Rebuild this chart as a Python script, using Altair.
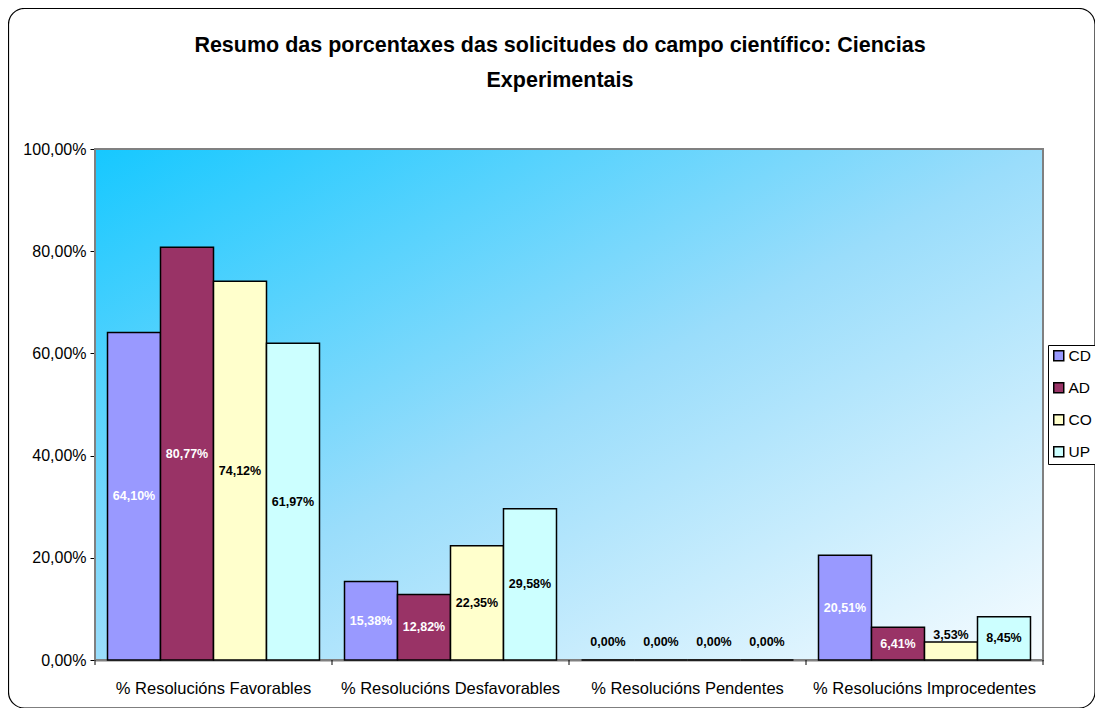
import altair as alt
import pandas as pd

categories = ["% Resolucións Favorables", "% Resolucións Desfavorables",
              "% Resolucións Pendentes", "% Resolucións Improcedentes"]
series = ["CD", "AD", "CO", "UP"]
colors = ["#9999FF", "#993366", "#FFFFCC", "#CCFFFF"]
values_CD = [64.10, 15.38, 0.00, 20.51]
values_AD = [80.77, 12.82, 0.00, 6.41]
values_CO = [74.12, 22.35, 0.00, 3.53]
values_UP = [61.97, 29.58, 0.00, 8.45]
title_lines = ["Resumo das porcentaxes das solicitudes do campo científico: Ciencias",
               "Experimentais"]

rows = []
for s, vals in zip(series, [values_CD, values_AD, values_CO, values_UP]):
    for c, v in zip(categories, vals):
        rows.append({"cat": c, "series": s, "value": v})
df = pd.DataFrame(rows)

W, H = 948, 511
FONT = "Liberation Sans"

one = alt.Data(values=[{}])

bg = alt.Chart(one).mark_rect(
    fill=alt.Gradient(
        gradient="linear",
        stops=[alt.GradientStop(color="#16C8FF", offset=0),
               alt.GradientStop(color="#9ADDFB", offset=0.5),
               alt.GradientStop(color="#F7FCFF", offset=1)],
        x1=0, y1=0, x2=1, y2=1),
    stroke="#808080", strokeWidth=2
).encode(x=alt.value(0), x2=alt.value(W), y=alt.value(0), y2=alt.value(H))

xenc = alt.X("cat:N", sort=categories, title=None,
             scale=alt.Scale(paddingInner=0, paddingOuter=0),
             axis=alt.Axis(ticks=False, labelAngle=0, labelFontSize=16.5,
                           labelFont=FONT, labelColor="black", labelPadding=20,
                           labelLimit=400,
                           domainColor="black", domainWidth=1.5, grid=False))
xoff = alt.XOffset("series:N", sort=series,
                   scale=alt.Scale(paddingInner=0, paddingOuter=0.236))
yenc = alt.Y("value:Q", title=None,
             scale=alt.Scale(domain=[0, 100], nice=False),
             axis=alt.Axis(values=[0, 20, 40, 60, 80, 100],
                           labelExpr="replace(format(datum.value, '.2f'), '.', ',') + '%'",
                           labelFontSize=16, labelFont=FONT, labelColor="black",
                           labelPadding=4, tickSize=5, tickColor="black",
                           domainColor="black", gridColor="black", gridWidth=1,
                           gridOpacity=1))

bars = alt.Chart(df).mark_bar(stroke="black", strokeWidth=1.5).encode(
    x=xenc, xOffset=xoff, y=yenc,
    color=alt.Color("series:N", sort=series,
                    scale=alt.Scale(domain=series, range=colors),
                    legend=alt.Legend(title=None, orient="none", legendX=953, legendY=196,
                                      symbolType="square", symbolSize=100,
                                      symbolStrokeColor="black", symbolStrokeWidth=1.5,
                                      labelFontSize=15.5, labelFont=FONT, labelColor="black",
                                      strokeColor="black", padding=3, rowPadding=14,
                                      labelOffset=2, fillColor="white"))
)

labels = alt.Chart(df).transform_calculate(
    ly="datum.value < 1 ? 3.5 : (datum.value < 5 ? datum.value + 1.4 : datum.value / 2)",
    txt="replace(format(datum.value, '.2f'), '.', ',') + '%'",
    tc="(datum.series == 'CD' || datum.series == 'AD') && datum.value >= 5 ? 'white' : 'black'"
).mark_text(fontSize=12.5, fontWeight="bold", font=FONT, baseline="middle").encode(
    x=alt.X("cat:N", sort=categories),
    xOffset=alt.XOffset("series:N", sort=series),
    y=alt.Y("ly:Q"),
    text="txt:N",
    color=alt.Color("tc:N", scale=None, legend=None)
)

xticks = alt.Chart(pd.DataFrame({"cat": categories})).mark_rule(color="black").encode(
    x=alt.X("cat:N", sort=categories, bandPosition=0),
    y=alt.value(H), y2=alt.value(H + 5))
xtick_end = alt.Chart(one).mark_rule(color="black").encode(
    x=alt.value(W), y=alt.value(H), y2=alt.value(H + 5))

title1 = alt.Chart(one).mark_text(text=title_lines[0], fontSize=21.5, fontWeight="bold",
                                  font=FONT, color="black", align="center",
                                  baseline="middle").encode(
    x=alt.value(465), y=alt.value(-103))
title2 = alt.Chart(one).mark_text(text=title_lines[1], fontSize=21.5, fontWeight="bold",
                                  font=FONT, color="black", align="center",
                                  baseline="middle").encode(
    x=alt.value(465), y=alt.value(-68))

border = alt.Chart(one).mark_rect(fill=None, fillOpacity=0, stroke="black", strokeWidth=1.2,
                                  cornerRadius=16).encode(
    x=alt.value(-86.5), x2=alt.value(1000), y=alt.value(-140.5), y2=alt.value(559))

chart = alt.layer(bg, bars, labels, xticks, xtick_end, title1, title2, border).resolve_scale(
    color="independent"
).properties(
    width=W, height=H,
    autosize=alt.AutoSizeParams(type="none"),
    padding={"left": 87, "top": 141, "right": 52, "bottom": 48},
).configure_view(stroke=None).configure(background="white")

chart.save("out.html", embed_options={"renderer": "svg", "actions": False})
